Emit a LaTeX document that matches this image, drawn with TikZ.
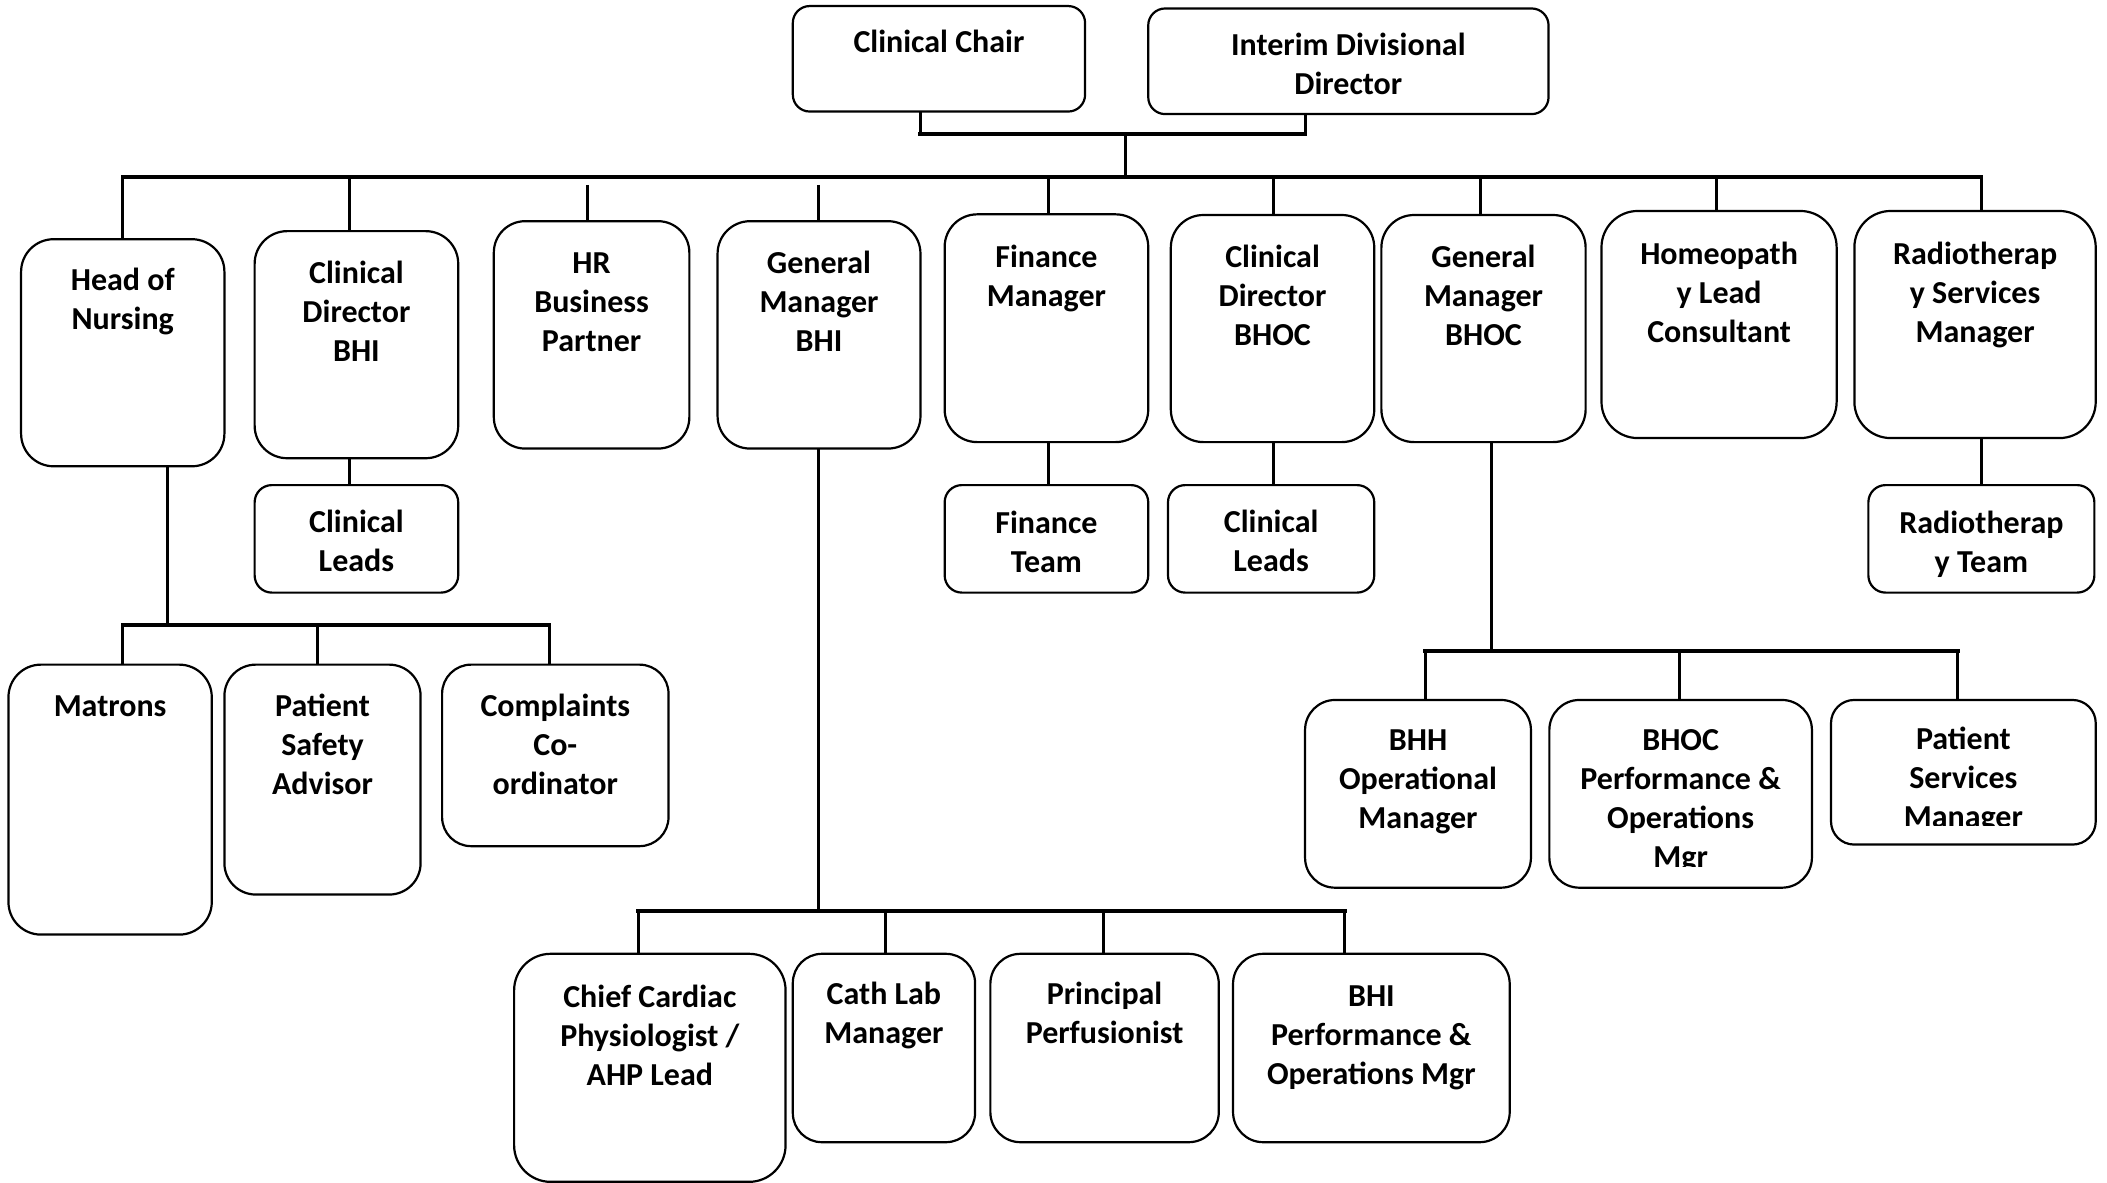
\documentclass[tikz,border=0pt]{standalone}
\usepackage{fontspec}
\setmainfont{Carlito}
\tikzset{
  orgbox/.style={draw, line width=1.1pt, inner sep=0pt, outer sep=0pt},
  orgtext/.style={inner sep=0pt, align=center, font=\fontsize{16}{19.5}\selectfont\bfseries},
  drop/.style={line width=1.5pt},
  bus/.style={line width=2pt, line cap=rect},
}
% name x1 y1 x2 y2 textoffset clipy text
\newcommand\obox[8]{%
  \pgfmathsetmacro\bw{(#4-#2)*0.6719}%
  \pgfmathsetmacro\bh{(#5-#3)*0.6719}%
  \pgfmathsetmacro\rr{0.16*min(#4-#2,#5-#3)*0.6719}%
  \node[orgbox, minimum width=\bw pt, minimum height=\bh pt, rounded corners=\rr pt] (#1) at ({(#2+#4)/2},{(#3+#5)/2}) {};
  \begin{scope}
    \clip (#2,#3) rectangle (#4,#7);
    \node[orgtext, anchor=north] (#1-t) at ({(#2+#4)/2},{#3+#6-13.1}) {\rule{0pt}{14pt}#8};
  \end{scope}
}
\begin{document}
\begin{tikzpicture}[x=0.6719pt, y=-0.6719pt]
\useasboundingbox (0,0) rectangle (1568,880);
\fill[white] (0,0) rectangle (1568,880);

% boxes
\obox{chair}{590}{4.5}{807.5}{83}{26.5}{83}{Clinical Chair}
\obox{interim}{854.5}{6.3}{1152.4}{84.9}{27}{84.9}{Interim Divisional\\Director}
\obox{hon}{15.7}{178}{167}{347}{30.5}{347}{Head of\\Nursing}
\obox{cdbhi}{189.5}{172}{341}{341}{30.8}{341}{Clinical\\Director\\BHI}
\obox{hr}{367.5}{164.6}{513}{333.8}{31}{333.8}{HR\\Business\\Partner}
\obox{gmbhi}{534}{164.6}{685}{333.8}{31}{333.8}{General\\Manager\\BHI}
\obox{fin}{703}{159.5}{854.5}{329}{31.3}{329}{Finance\\Manager}
\obox{cdbhoc}{871.3}{160}{1022.7}{329}{30.8}{329}{Clinical\\Director\\BHOC}
\obox{gmbhoc}{1028}{160}{1180}{329}{30.8}{329}{General\\Manager\\BHOC}
\obox{homeo}{1191.8}{157}{1366.8}{326}{32}{326}{Homeopath\\y Lead\\Consultant}
\obox{radio}{1380}{157}{1559.6}{326}{32}{326}{Radiotherap\\y Services\\Manager}
\obox{cla}{189.5}{361}{341}{441}{27}{441}{Clinical\\Leads}
\obox{finteam}{703}{361}{854.5}{441}{28}{441}{Finance\\Team}
\obox{clb}{869.2}{361}{1022.7}{441}{27}{441}{Clinical\\Leads}
\obox{radteam}{1390.4}{361}{1558.6}{441}{28}{441}{Radiotherap\\y Team}
\obox{matrons}{6.3}{494.6}{157.6}{695.5}{30.6}{695.5}{Matrons}
\obox{psa}{167}{494.6}{313}{665.7}{30.6}{665.7}{Patient\\Safety\\Advisor}
\obox{compl}{329}{494.6}{497.5}{629.7}{30.6}{629.7}{Complaints\\Co-\\ordinator}
\obox{chief}{382.6}{709.8}{584.6}{879.5}{32}{879.5}{Chief Cardiac\\Physiologist /\\AHP Lead}
\obox{cath}{590}{709.8}{725.6}{850}{30}{850}{Cath Lab\\Manager}
\obox{princ}{737}{709.8}{907}{850}{30}{850}{Principal\\Perfusionist}
\obox{bhiperf}{917.6}{709.8}{1123.5}{850}{31}{850}{BHI\\Performance \&\\Operations Mgr}
\obox{bhh}{971.2}{520.9}{1139.3}{660.6}{29.5}{660.6}{BHH\\Operational\\Manager}
\obox{bhocperf}{1153}{520.9}{1348.4}{660.6}{29.5}{645}{BHOC\\Performance \&\\Operations\\Mgr}
\obox{patserv}{1362.6}{520.9}{1559.6}{628.5}{28.6}{614}{Patient\\Services\\Manager}

% top connector
\coordinate (tj) at (837.7,99.7);
\coordinate (tl) at (685,99.7);
\coordinate (tr) at (971.2,99.7);
\draw[drop] (chair.south -| tl) -- (tl);
\draw[drop] (interim.south -| tr) -- (tr);
\draw[bus] (tl) -- (tr);
\coordinate (b1l) at (91.3,131.9);
\coordinate (b1r) at (1474.5,131.9);
\draw[drop] (tj) -- (tj |- b1l);
\draw[bus] (b1l) -- (b1r);

% main drops
\draw[drop] (91.3,131.9) -- (hon.north -| 91.3,0);
\draw[drop] (260,131.9) -- (cdbhi.north -| 260,0);
\draw[drop] (437,137.6) -- (hr.north -| 437,0);
\draw[drop] (609,137.6) -- (gmbhi.north -| 609,0);
\draw[drop] (780,131.9) -- (fin.north -| 780,0);
\draw[drop] (947.5,131.9) -- (cdbhoc.north -| 947.5,0);
\draw[drop] (1101.5,131.9) -- (gmbhoc.north -| 1101.5,0);
\draw[drop] (1277.5,131.9) -- (homeo.north -| 1277.5,0);
\draw[drop] (1474.5,131.9) -- (radio.north -| 1474.5,0);

% sub links
\draw[drop] (cdbhi.south -| 260,0) -- (cla.north -| 260,0);
\draw[drop] (fin.south -| 780,0) -- (finteam.north -| 780,0);
\draw[drop] (cdbhoc.south -| 947.5,0) -- (clb.north -| 947.5,0);
\draw[drop] (radio.south -| 1474.5,0) -- (radteam.north -| 1474.5,0);

% head of nursing group
\coordinate (b2l) at (91.4,465.1);
\coordinate (b2r) at (408.7,465.1);
\draw[drop] (hon.south -| 124.8,0) -- (124.8,465.1);
\draw[bus] (b2l) -- (b2r);
\draw[drop] (91.4,465.1) -- (matrons.north -| 91.4,0);
\draw[drop] (236.5,465.1) -- (psa.north -| 236.5,0);
\draw[drop] (408.7,465.1) -- (compl.north -| 408.7,0);

% GM BHI group
\coordinate (b3l) at (475,678.3);
\coordinate (b3r) at (1000.6,678.3);
\draw[drop] (gmbhi.south -| 609,0) -- (609,678.3);
\draw[bus] (b3l) -- (b3r);
\draw[drop] (475,678.3) -- (chief.north -| 475,0);
\draw[drop] (659.3,678.3) -- (cath.north -| 659.3,0);
\draw[drop] (821.4,678.3) -- (princ.north -| 821.4,0);
\draw[drop] (1000.6,678.3) -- (bhiperf.north -| 1000.6,0);

% GM BHOC group
\coordinate (b4l) at (1060.5,484.5);
\coordinate (b4r) at (1457,484.5);
\draw[drop] (gmbhoc.south -| 1110,0) -- (1110,484.5);
\draw[bus] (b4l) -- (b4r);
\draw[drop] (1060.5,484.5) -- (bhh.north -| 1060.5,0);
\draw[drop] (1249.6,484.5) -- (bhocperf.north -| 1249.6,0);
\draw[drop] (1457,484.5) -- (patserv.north -| 1457,0);
\end{tikzpicture}
\end{document}
